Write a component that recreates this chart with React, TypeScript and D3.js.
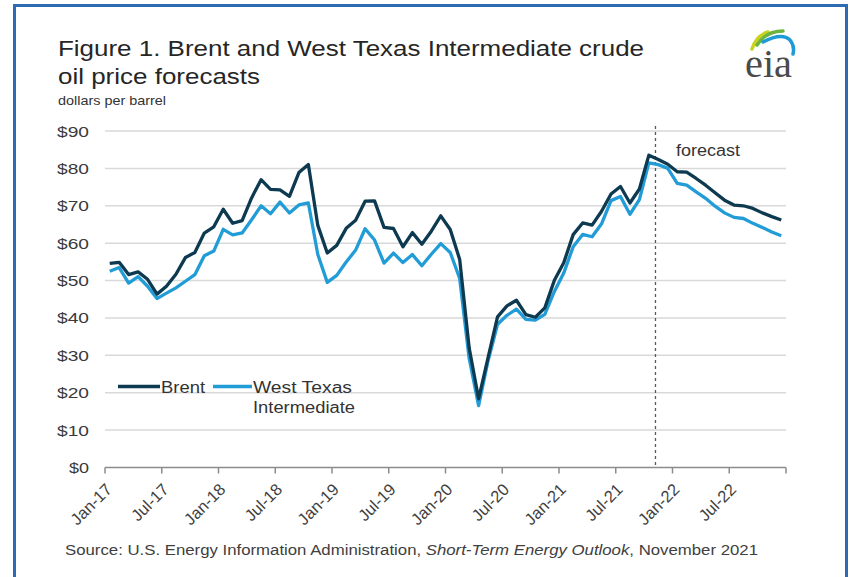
import React from "react";
import * as d3 from "d3";

// Monthly categories Jan-2017 .. Dec-2022
const monthCount = 72;
const tickLabels = ["Jan-17","Jul-17","Jan-18","Jul-18","Jan-19","Jul-19","Jan-20","Jul-20","Jan-21","Jul-21","Jan-22","Jul-22"];
const yTicks = [0,10,20,30,40,50,60,70,80,90];

const brent = [
  54.58,54.87,51.59,52.31,50.33,46.37,48.48,51.70,56.15,57.51,62.71,64.37,
  69.08,65.32,66.02,72.11,76.98,74.41,74.25,72.53,78.89,81.03,64.75,57.36,
  59.41,63.96,66.14,71.23,71.32,64.22,63.92,59.04,62.83,59.71,63.21,67.31,
  63.65,55.66,32.01,18.38,29.38,40.27,43.24,44.74,40.91,40.19,42.69,49.99,
  54.77,62.28,65.41,64.81,68.53,73.16,75.17,70.75,74.49,83.54,82.4,81.1,
  79.1,79.0,77.3,75.5,73.5,71.5,70.2,70.0,69.3,68.1,67.1,66.2
];
const wti = [
  52.50,53.47,49.33,51.06,48.48,45.18,46.63,48.04,49.82,51.58,56.64,57.88,
  63.70,62.23,62.73,66.25,69.98,67.87,70.98,68.06,70.23,70.75,56.96,49.52,
  51.38,54.95,58.15,63.86,60.83,54.66,57.35,54.81,56.95,53.96,57.03,59.88,
  57.52,50.54,29.21,16.55,28.56,38.31,40.71,42.34,39.63,39.40,40.94,47.02,
  52.00,59.04,62.33,61.72,65.17,71.38,72.49,67.73,71.65,81.48,81.0,80.0,
  76.0,75.5,73.7,72.0,69.9,68.1,66.9,66.6,65.3,64.2,63.0,62.0
];
const forecastStartIndex = 58.2;

const series = [
  { name: "Brent", values: brent, color: "#0d3a50" },
  { name: "West Texas Intermediate", values: wti, color: "#219cd6" },
];

const FONT = "'Liberation Sans', Arial, sans-serif";

export default function App() {
  const W = 850, H = 577;
  const x = d3.scaleLinear().domain([0, monthCount]).range([105, 786]);
  const y = d3.scaleLinear().domain([0, 90]).range([467.5, 131]);
  const line = d3.line<number>()
    .x((_, i) => x(i + 0.5))
    .y((v) => y(v));
  const tickIdx = d3.range(0, monthCount + 1, 6);
  const legendY = 386.5;

  return (
    <svg width={W} height={H} viewBox={`0 0 ${W} ${H}`}
      style={{ position: "fixed", left: 0, top: 0, background: "#fff" }}
      fontFamily={FONT}>
      <rect x={0} y={0} width={W} height={H} fill="#fff" />
      {/* frame */}
      <rect x={14.5} y={5.5} width={832} height={620} fill="none" stroke="#2d6bb3" strokeWidth={3} />

      {/* title */}
      <text x={58} y={56} fontSize={22} fill="#262626" textLength={586} lengthAdjust="spacingAndGlyphs">
        Figure 1. Brent and West Texas Intermediate crude
      </text>
      <text x={58} y={84} fontSize={22} fill="#262626" textLength={202} lengthAdjust="spacingAndGlyphs">
        oil price forecasts
      </text>
      <text x={58} y={105} fontSize={13} fill="#333" textLength={108} lengthAdjust="spacingAndGlyphs">
        dollars per barrel
      </text>

      {/* eia logo */}
      <g>
        <path d="M752,49 Q756,36 768,32" fill="none" stroke="#c9d31f" strokeWidth={3.5} strokeLinecap="round" />
        <path d="M757,45 Q766,31 783,31" fill="none" stroke="#6cb33f" strokeWidth={3.5} strokeLinecap="round" />
        <path d="M763,42 Q782,32 790,40 Q795,46 793,54" fill="none" stroke="#1e9ad6" strokeWidth={3.5} strokeLinecap="round" />
        <text x={745} y={77} fontSize={40} fontFamily="'Liberation Serif', 'DejaVu Serif', serif" fill="#4a4a4a" textLength={47} lengthAdjust="spacingAndGlyphs">eia</text>
      </g>

      {/* gridlines */}
      {yTicks.filter((t) => t > 0).map((t) => (
        <line key={t} x1={x(0)} x2={x(monthCount)} y1={y(t)} y2={y(t)} stroke="#d9d9d9" strokeWidth={1.5} />
      ))}
      {/* y labels */}
      {yTicks.map((t) => (
        <text key={t} x={89} y={y(t) + 5.5} fontSize={15.5} fill="#3a3a3a" textAnchor="end"
          textLength={t === 0 ? 20 : 32} lengthAdjust="spacingAndGlyphs">{`$${t}`}</text>
      ))}

      {/* x axis */}
      <line x1={x(0)} x2={x(monthCount)} y1={y(0)} y2={y(0)} stroke="#8c8c8c" strokeWidth={1.5} />
      {tickIdx.map((i) => (
        <line key={i} x1={x(i)} x2={x(i)} y1={y(0)} y2={y(0) + 6} stroke="#8c8c8c" strokeWidth={1.5} />
      ))}
      {tickLabels.map((lab, k) => {
        const tx = x(k * 6) + 8;
        const ty = y(0) + 23;
        return (
          <text key={lab} x={0} y={0} fontSize={16.5} fill="#404040" textAnchor="end"
            transform={`translate(${tx},${ty}) rotate(-45)`}>{lab}</text>
        );
      })}

      {/* forecast divider */}
      <line x1={x(forecastStartIndex)} x2={x(forecastStartIndex)} y1={126} y2={y(0)}
        stroke="#595959" strokeWidth={1.3} strokeDasharray="3,3" />
      <text x={676} y={156} fontSize={16} fill="#333" textLength={64} lengthAdjust="spacingAndGlyphs">forecast</text>

      {/* series */}
      {series.slice().reverse().map((s) => (
        <path key={s.name} d={line(s.values) || ""} fill="none" stroke={s.color} strokeWidth={3.3} strokeLinejoin="round" />
      ))}

      {/* legend */}
      <line x1={118} x2={160} y1={legendY} y2={legendY} stroke={series[0].color} strokeWidth={3.3} />
      <text x={161} y={legendY + 6} fontSize={16} fill="#333" textLength={44} lengthAdjust="spacingAndGlyphs">Brent</text>
      <line x1={213} x2={252} y1={legendY} y2={legendY} stroke={series[1].color} strokeWidth={3.3} />
      <text x={253} y={legendY + 6} fontSize={16} fill="#333" textLength={99} lengthAdjust="spacingAndGlyphs">West Texas</text>
      <text x={253} y={legendY + 26} fontSize={16} fill="#333" textLength={102} lengthAdjust="spacingAndGlyphs">Intermediate</text>

      {/* source */}
      <text x={65} y={555} fontSize={14} fill="#404040" textLength={693} lengthAdjust="spacingAndGlyphs">
        Source: U.S. Energy Information Administration, <tspan fontStyle="italic">Short-Term Energy Outlook</tspan>, November 2021
      </text>
    </svg>
  );
}
